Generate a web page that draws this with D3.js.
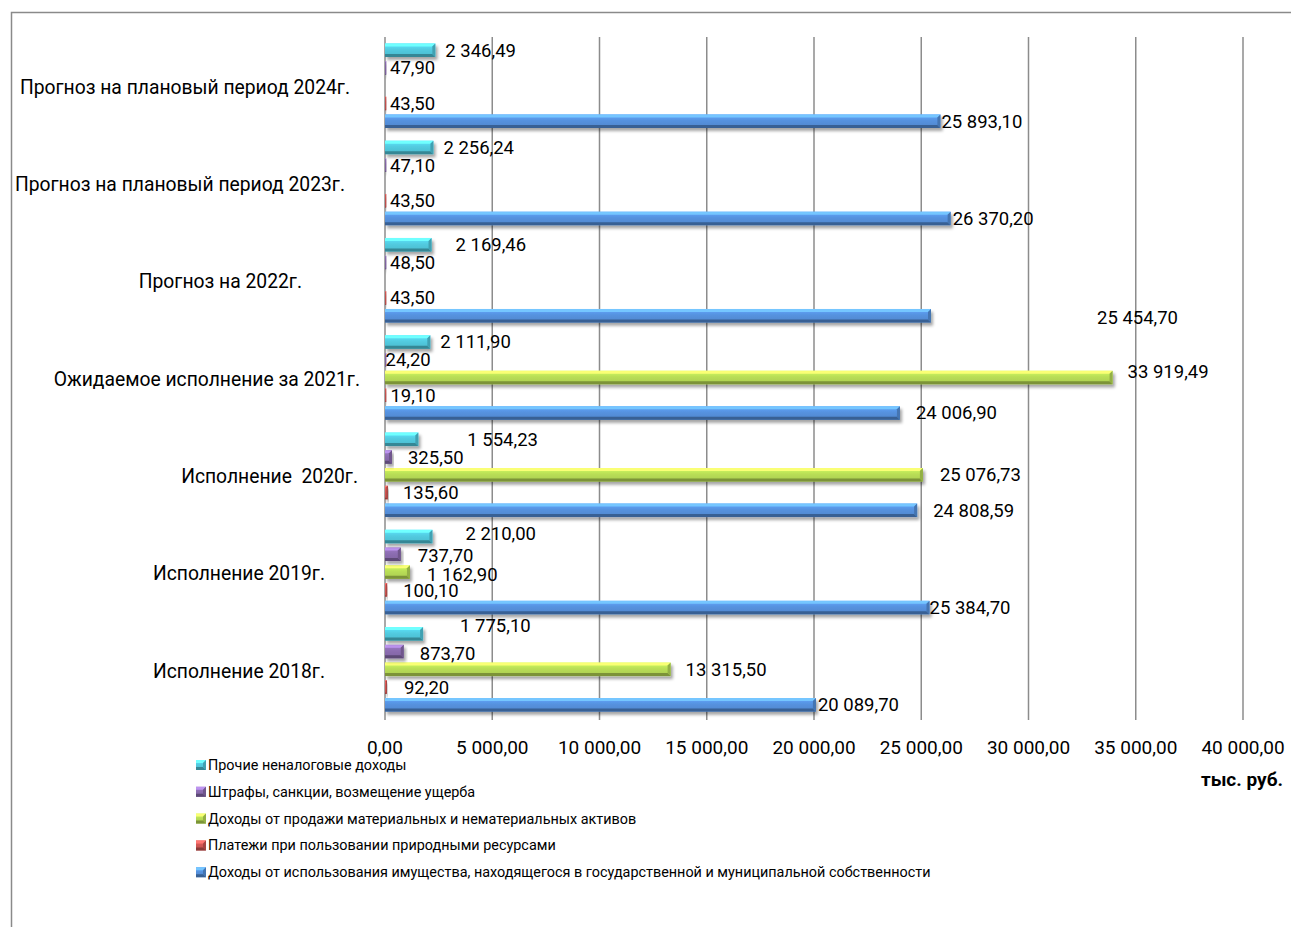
<!DOCTYPE html>
<html lang="ru">
  <head>
    <meta charset="utf-8">
    <title>Неналоговые доходы</title>
    <script src="https://cdn.jsdelivr.net/npm/d3@7"></script>
    <style type="text/css">
      body { margin: 0; background: #fff; }
      svg { font-family: Roboto, "Noto Sans", sans-serif; }
      .grid line { stroke: #8c8c8c; stroke-width: 1.5; }
      .cat { font-size: 19.3px; fill: #000; white-space: pre; }
      .tick-label { font-size: 19px; fill: #000; }
      .val { font-size: 18.5px; fill: #000; }
      .legend text { font-size: 14.4px; fill: #000; }
    </style>
  </head>
  <body>
    <svg width="1291" height="927"></svg>
    <script type="text/javascript">
      // categories, bottom to top as in the picture
      var categories = ["Исполнение 2018г.", "Исполнение 2019г.", "Исполнение  2020г.",
        "Ожидаемое исполнение за 2021г.", "Прогноз на 2022г.",
        "Прогноз на плановый период 2023г.", "Прогноз на плановый период 2024г."];

      var seriesNames = [
        "Доходы от использования имущества, находящегося в государственной и муниципальной собственности",
        "Платежи при пользовании природными ресурсами",
        "Доходы от продажи материальных и нематериальных активов",
        "Штрафы, санкции, возмещение ущерба",
        "Прочие неналоговые доходы"];

      var propertyIncome = [20089.70, 25384.70, 24808.59, 24006.90, 25454.70, 26370.20, 25893.10];
      var naturalRes = [92.20, 100.10, 135.60, 19.10, 43.50, 43.50, 43.50];
      var assetSales = [13315.50, 1162.90, 25076.73, 33919.49, null, null, null];
      var fines = [873.70, 737.70, 325.50, 24.20, 48.50, 47.10, 47.90];
      var otherNonTax = [1775.10, 2210.00, 1554.23, 2111.90, 2169.46, 2256.24, 2346.49];

      var xTicks = [0, 5000, 10000, 15000, 20000, 25000, 30000, 35000, 40000];

      var seriesValues = [propertyIncome, naturalRes, assetSales, fines, otherNonTax];
      var seriesColors = ["#4f86cc", "#c0504d", "#a9cb4f", "#8064a2", "#4bbacd"];

      // manual label moves, as done in the original workbook  [dx, dy]
      var labelNudge = {
        "6-0": [-9, 0], "6-1": [-6, 0], "6-3": [-6, 0],
        "5-0": [-8, 0], "5-1": [-6, 0], "5-3": [-6, 0],
        "4-4": [14, 0], "4-0": [156, 2], "4-1": [-6, 0], "4-3": [-6, 0],
        "3-2": [5, -6], "3-3": [-10, 0], "3-1": [-5, 0], "3-0": [6, 0],
        "2-4": [39, 0], "2-3": [6, 0], "2-2": [7, 0], "2-1": [5, 0], "2-0": [6, 0],
        "1-4": [23, -3], "1-3": [7, 1], "1-2": [7, 2], "1-1": [6, 1], "1-0": [-10, 0],
        "0-4": [27, -8], "0-3": [6, 2], "0-2": [5, 0], "0-1": [7, 0], "0-0": [-8, 0]
      };
      var catLabelRight = [325, 325, 358, 360, 302, 345, 350];

      var svg = d3.select("svg");

      var ru = d3.formatLocale({decimal: ",", thousands: "\u00a0", grouping: [3], currency: ["", ""]});
      var fmt = ru.format(",.2f");

      var x = d3.scaleLinear().domain([0, 40000]).range([385, 1243]);
      var y = d3.scaleBand()
        .domain(d3.range(categories.length).reverse())
        .range([37, 718])
        .padding(0);
      // top to bottom inside a group: other, fines, sales, nature, property
      var yInner = d3.scaleBand()
        .domain([4, 3, 2, 1, 0])
        .range([0, y.bandwidth()])
        .paddingInner(0.24)
        .paddingOuter(0.36);

      var defs = svg.append("defs");
      var shadow = defs.append("filter").attr("id", "shadow")
        .attr("x", "-10%").attr("y", "-50%").attr("width", "130%").attr("height", "250%");
      shadow.append("feDropShadow")
        .attr("dx", 2).attr("dy", 3).attr("stdDeviation", 1.6)
        .attr("flood-color", "#000").attr("flood-opacity", 0.35);

      seriesColors.forEach(function(c, i) {
        var grad = defs.append("linearGradient").attr("id", "g" + i)
          .attr("x1", 0).attr("y1", 0).attr("x2", 0).attr("y2", 1);
        grad.append("stop").attr("offset", "0%").attr("stop-color", d3.color(c).brighter(0.6));
        grad.append("stop").attr("offset", "45%").attr("stop-color", d3.color(c).brighter(0.25));
        grad.append("stop").attr("offset", "100%").attr("stop-color", c);
      });

      // chart frame
      svg.append("rect")
        .attr("x", 11.5).attr("y", 12.5)
        .attr("width", 1400).attr("height", 1000)
        .attr("fill", "none").attr("stroke", "#8a8a8a").attr("stroke-width", 1.5);

      // gridlines
      svg.append("g").attr("class", "grid")
        .selectAll("line")
        .data(xTicks)
        .enter().append("line")
          .attr("x1", function(d) { return x(d); })
          .attr("x2", function(d) { return x(d); })
          .attr("y1", y.range()[0])
          .attr("y2", y.range()[1] + 2);

      svg.append("g")
        .selectAll("text")
        .data(xTicks)
        .enter().append("text")
          .attr("class", "tick-label")
          .attr("x", function(d) { return x(d); })
          .attr("y", 747)
          .attr("dy", "0.35em")
          .attr("text-anchor", "middle")
          .text(function(d) { return fmt(d); });

      svg.append("text")
        .attr("x", 1283).attr("y", 779).attr("dy", "0.35em")
        .attr("text-anchor", "end")
        .style("font-size", "19px").style("font-weight", "bold")
        .text("тыс. руб.");

      // category labels
      svg.append("g")
        .selectAll("text")
        .data(categories)
        .enter().append("text")
          .attr("class", "cat")
          .attr("x", function(d, i) { return catLabelRight[i]; })
          .attr("y", function(d, i) { return y(i) + y.bandwidth() / 2 + 1.5; })
          .attr("dy", "0.35em")
          .attr("text-anchor", "end")
          .text(function(d) { return d; });

      // bevelled bar
      function drawBar(g, x0, y0, w, h, si) {
        var c = d3.color(seriesColors[si]);
        var b = Math.min(3, w / 2, h / 2);
        var bar = g.append("g").attr("filter", "url(#shadow)");
        bar.append("rect")
          .attr("x", x0).attr("y", y0).attr("width", w).attr("height", h)
          .attr("fill", "url(#g" + si + ")");
        bar.append("polygon")
          .attr("points", [[x0, y0], [x0 + w, y0], [x0 + w - b, y0 + b], [x0, y0 + b]].join(" "))
          .attr("fill", c.brighter(1.1));
        bar.append("polygon")
          .attr("points", [[x0, y0 + h], [x0 + w, y0 + h], [x0 + w - b, y0 + h - b], [x0, y0 + h - b]].join(" "))
          .attr("fill", c.darker(0.9));
        bar.append("polygon")
          .attr("points", [[x0 + w, y0], [x0 + w, y0 + h], [x0 + w - b, y0 + h - b], [x0 + w - b, y0 + b]].join(" "))
          .attr("fill", c.darker(0.4));
      }

      var bars = svg.append("g").attr("class", "bars");
      var labels = svg.append("g").attr("class", "labels");

      seriesValues.forEach(function(vals, si) {
        vals.forEach(function(v, ci) {
          if (v == null) return;
          var y0 = y(ci) + yInner(si);
          var w = Math.max(x(v) - x(0), 1.2);
          drawBar(bars, x(0), y0, w, yInner.bandwidth(), si);
          var n = labelNudge[ci + "-" + si] || [0, 0];
          labels.append("text")
            .attr("class", "val")
            .attr("x", x(v) + 10 + n[0])
            .attr("y", y0 + yInner.bandwidth() / 2 + n[1])
            .attr("dy", "0.35em")
            .text(fmt(v));
        });
      });

      // legend
      var legend = svg.append("g").attr("class", "legend")
        .selectAll("g")
        .data([4, 3, 2, 1, 0])
        .enter().append("g")
          .attr("transform", function(d, i) { return "translate(196," + (765 + i * 26.8) + ")"; });

      legend.each(function(si) {
        drawBar(d3.select(this), 0, -5, 10, 10, si);
      });
      legend.select("g").attr("filter", null);

      legend.append("text")
        .attr("x", 12)
        .attr("dy", "0.35em")
        .text(function(si) { return seriesNames[si]; });
    </script>
  </body>
</html>
